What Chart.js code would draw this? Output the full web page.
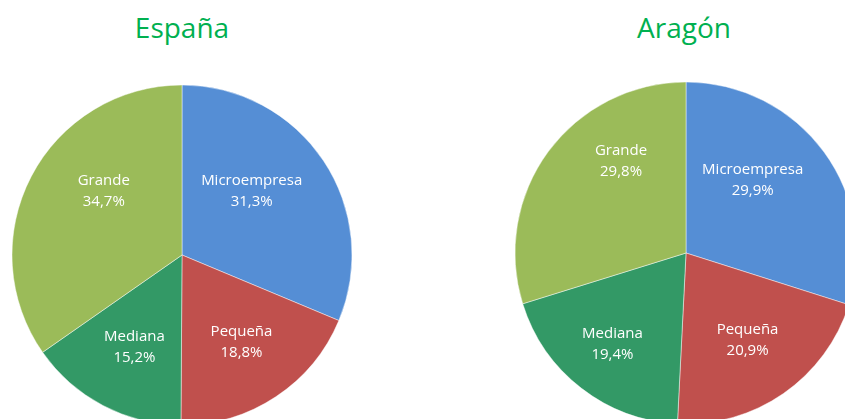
<!DOCTYPE html>
<html>
<head>
<meta charset="utf-8">
<script src="https://cdn.jsdelivr.net/npm/chart.js@4/dist/chart.umd.min.js"></script>
<style>
  html,body{margin:0;padding:0;background:#fff;overflow:hidden;width:845px;height:419px;}
  #wrap{position:relative;width:845px;height:419px;overflow:hidden;}
  canvas{position:absolute;}
  .title{position:absolute;top:8px;font-family:"Open Sans",sans-serif;font-size:28px;color:#00B050;text-align:center;width:300px;}
</style>
</head>
<body>
<div id="wrap">
  <div class="title" style="left:32px">España</div>
  <div class="title" style="left:534px">Aragón</div>
  <canvas id="espana" width="364" height="510" style="left:0;top:0"></canvas>
  <canvas id="aragon" width="400" height="506" style="left:486px;top:0"></canvas>
</div>
<script>
// DATOS
const categorias = ["Microempresa", "Pequeña", "Mediana", "Grande"];
const valoresEspana = [31.3, 18.8, 15.2, 34.7];
const valoresAragon = [29.9, 20.9, 19.4, 29.8];
const colores = ["#558ED5", "#C0504D", "#339966", "#9BBB59"];

// posicion de las etiquetas (fraccion del radio, como las coloca Excel)
const posEspana = [[0.41, -0.38], [0.35, 0.51], [-0.28, 0.54], [-0.46, -0.38]];
const posAragon = [[0.39, -0.43], [0.36, 0.51], [-0.43, 0.53], [-0.38, -0.54]];

// ETIQUETAS DENTRO DEL SECTOR
const etiquetas = {
  id: "etiquetas",
  afterDatasetsDraw(chart, args, opts) {
    const ctx = chart.ctx;
    const ds = chart.data.datasets[0];
    chart.getDatasetMeta(0).data.forEach((arc, i) => {
      const r = arc.outerRadius;
      const x = arc.x + opts.pos[i][0] * r;
      const y = arc.y + opts.pos[i][1] * r;
      ctx.save();
      ctx.fillStyle = "#fff";
      ctx.font = "15px 'Open Sans', sans-serif";
      ctx.textAlign = "center";
      ctx.textBaseline = "middle";
      ctx.fillText(chart.data.labels[i], x, y - 10);
      ctx.fillText(ds.data[i].toFixed(1).replace(".", ",") + "%", x, y + 11);
      ctx.restore();
    });
  }
};

function tarta(id, valores, pos, padX, padY) {
  return new Chart(document.getElementById(id), {
    type: "pie",
    data: {
      labels: categorias,
      datasets: [{
        data: valores,
        backgroundColor: colores,
        borderColor: "rgba(255,255,255,0.45)",
        borderWidth: 1
      }]
    },
    options: {
      responsive: false,
      animation: false,
      layout: { padding: { left: padX, right: padX, top: padY, bottom: padY } },
      plugins: {
        legend: { display: false },
        tooltip: { enabled: false },
        etiquetas: { pos }
      }
    },
    plugins: [etiquetas]
  });
}

tarta("espana", valoresEspana, posEspana, 11.5, 84.5);
tarta("aragon", valoresAragon, posAragon, 28.5, 81.5);
</script>
</body>
</html>
